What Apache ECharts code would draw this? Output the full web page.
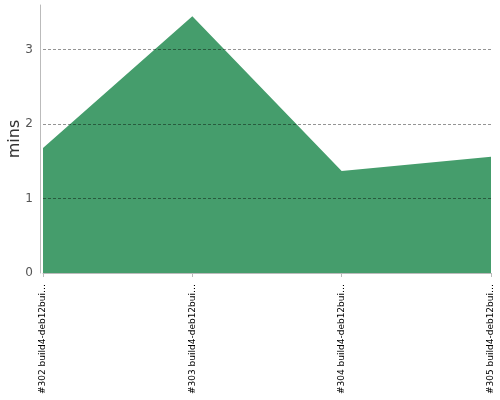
<!DOCTYPE html>
<html><head><meta charset="utf-8">
<script src="https://cdn.jsdelivr.net/npm/echarts@6/dist/echarts.min.js"></script>
<style>html,body{margin:0;padding:0;background:#fff}#c{width:500px;height:400px}</style>
</head><body><div id="c"></div>
<script>
var categories = ['#302 build4-deb12bui…', '#303 build4-deb12bui…', '#304 build4-deb12bui…', '#305 build4-deb12bui…'];
var durations = [1.68, 3.45, 1.37, 1.56];
var gridValues = [1, 2, 3];
var yTicks = [0, 1, 2, 3];

var chart = echarts.init(document.getElementById('c'), null, {renderer: 'canvas'});
chart.setOption({
  animation: false,
  grid: {left: 43, right: 9, top: 5, bottom: 127, containLabel: false, outerBoundsMode: 'none'},
  xAxis: {
    type: 'category', data: categories, boundaryGap: false, offset: 4,
    axisLine: {lineStyle: {color: '#bbb', width: 1}},
    axisTick: {show: true, alignWithLabel: true, length: 4, lineStyle: {color: '#bbb'}},
    axisLabel: {rotate: 90, fontSize: 9, color: '#000', fontFamily: 'DejaVu Sans', margin: 7, interval: 0}
  },
  yAxis: {
    type: 'value', min: 0, max: 3.6, interval: 1, offset: 3,
    name: 'mins', nameLocation: 'middle', nameGap: 17, nameMoveOverlap: false,
    nameTextStyle: {fontSize: 16, color: '#333', fontFamily: 'DejaVu Sans'},
    axisLine: {show: true, lineStyle: {color: '#bbb'}},
    axisTick: {show: false},
    splitLine: {show: false},
    axisLabel: {fontSize: 12, color: '#555', fontFamily: 'DejaVu Sans', margin: 7,
      formatter: function (v) { return yTicks.indexOf(v) >= 0 ? String(v) : ''; }}
  },
  series: [{
    type: 'line', data: durations, symbol: 'none',
    lineStyle: {width: 0, color: '#459d6c'},
    areaStyle: {color: '#459d6c', opacity: 1},
    markLine: {
      silent: true, symbol: 'none', label: {show: false},
      lineStyle: {type: [3, 2], color: 'rgba(0,0,0,0.42)', width: 1},
      data: gridValues.map(function (v) { return {yAxis: v}; })
    }
  }]
});
</script></body></html>
